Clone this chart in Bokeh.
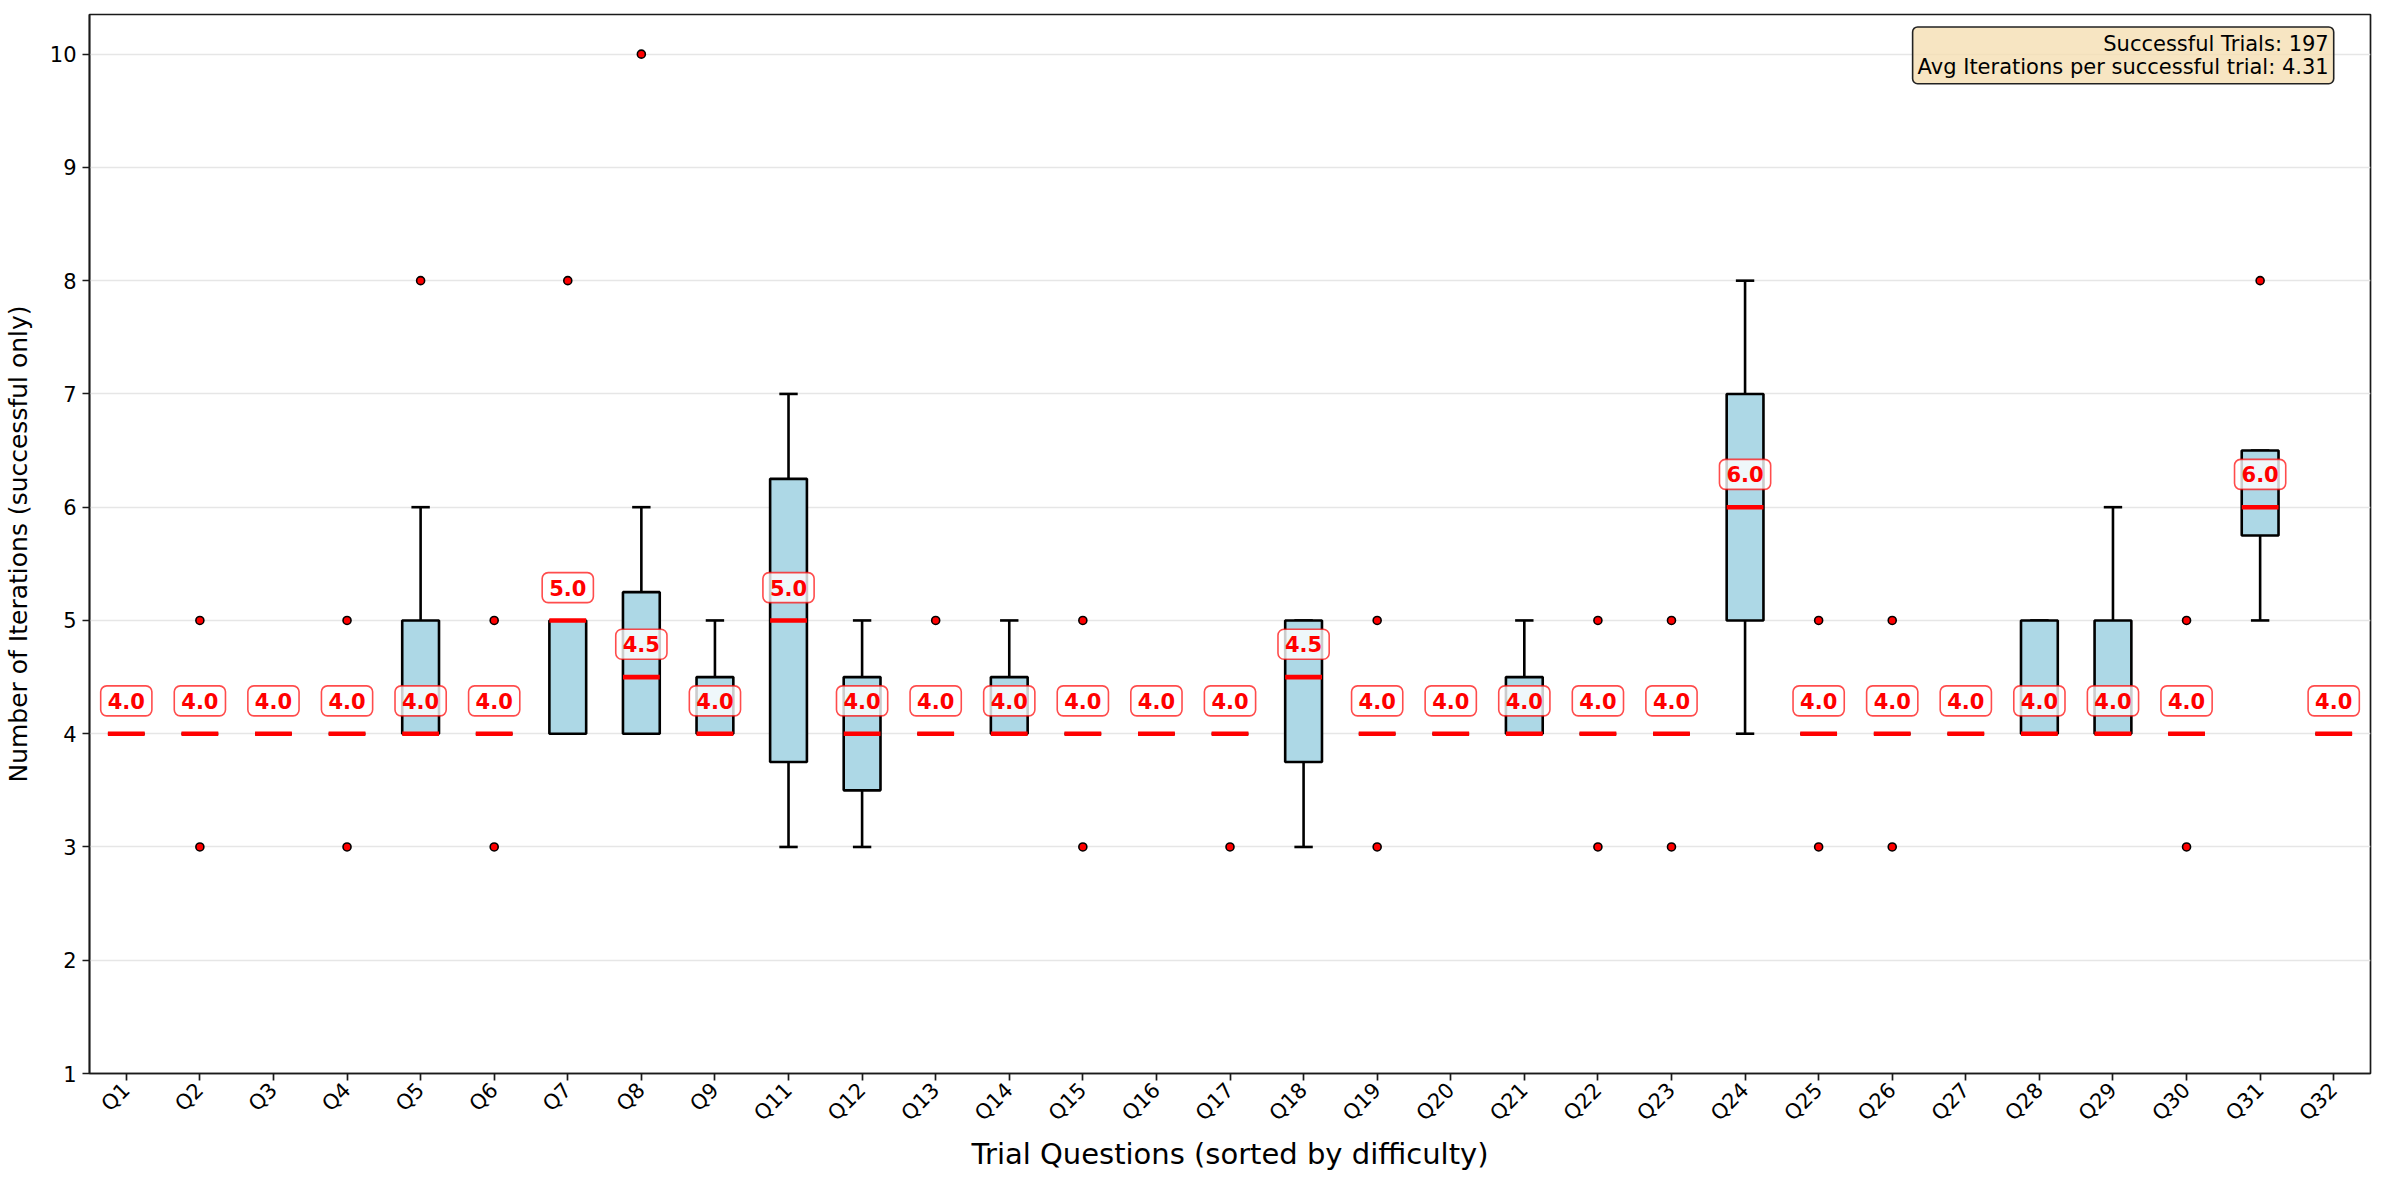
import math

from bokeh.core.properties import value
from bokeh.embed import file_html
from bokeh.models import ColumnDataSource, FixedTicker, Label, Range1d
from bokeh.plotting import figure
from bokeh.resources import INLINE

# Questions in order of difficulty (Q10 had no successful trials)
questions = ["Q1", "Q2", "Q3", "Q4", "Q5", "Q6", "Q7", "Q8", "Q9", "Q11",
             "Q12", "Q13", "Q14", "Q15", "Q16", "Q17", "Q18", "Q19", "Q20",
             "Q21", "Q22", "Q23", "Q24", "Q25", "Q26", "Q27", "Q28", "Q29",
             "Q30", "Q31", "Q32"]

# Box statistics: iterations needed per successful trial
box_low = [4, 4, 4, 4, 4, 4, 4, 4, 4, 3.75,
           3.5, 4, 4, 4, 4, 4, 3.75, 4, 4,
           4, 4, 4, 5, 4, 4, 4, 4, 4,
           4, 5.75, 4]
box_median = [4, 4, 4, 4, 4, 4, 5, 4.5, 4, 5,
              4, 4, 4, 4, 4, 4, 4.5, 4, 4,
              4, 4, 4, 6, 4, 4, 4, 4, 4,
              4, 6, 4]
box_high = [4, 4, 4, 4, 5, 4, 5, 5.25, 4.5, 6.25,
            4.5, 4, 4.5, 4, 4, 4, 5, 4, 4,
            4.5, 4, 4, 7, 4, 4, 4, 5, 5,
            4, 6.5, 4]
whisker_low = [4, 4, 4, 4, 4, 4, 4, 4, 4, 3,
               3, 4, 4, 4, 4, 4, 3, 4, 4,
               4, 4, 4, 4, 4, 4, 4, 4, 4,
               4, 5, 4]
whisker_high = [4, 4, 4, 4, 6, 4, 5, 6, 5, 7,
                5, 4, 5, 4, 4, 4, 5, 4, 4,
                5, 4, 4, 8, 4, 4, 4, 5, 6,
                4, 6.5, 4]
fliers = [[], [3, 5], [], [3, 5], [8], [3, 5], [8], [10], [], [],
          [], [5], [], [3, 5], [], [3], [], [3, 5], [],
          [], [3, 5], [3, 5], [], [3, 5], [3, 5], [], [], [],
          [3, 5], [8], []]

successful_trials = 197
avg_iterations = 4.31

FONT = "DejaVu Sans"
BOX_W = 0.5
CAP_W = 0.25

positions = list(range(1, len(questions) + 1))

stats = ColumnDataSource(dict(
    x=positions,
    lo=box_low,
    med=box_median,
    hi=box_high,
    wlo=whisker_low,
    whi=whisker_high,
    box_l=[x - BOX_W / 2 for x in positions],
    box_r=[x + BOX_W / 2 for x in positions],
    cap_l=[x - CAP_W / 2 for x in positions],
    cap_r=[x + CAP_W / 2 for x in positions],
    label_y=[m + 0.29 for m in box_median],
    label=[f"{m:.1f}" for m in box_median],
))

flier_x = [x for x, fl in zip(positions, fliers) for _ in fl]
flier_y = [v for fl in fliers for v in fl]
flier_src = ColumnDataSource(dict(x=flier_x, y=flier_y))

p = figure(
    width=2386, height=1183,
    x_range=Range1d(0.5, 31.5), y_range=Range1d(1, 10.35),
    output_backend="svg", toolbar_location=None,
    min_border_left=88, min_border_right=16,
    min_border_top=14, min_border_bottom=110,
    background_fill_color="white", border_fill_color="white",
)

# frame outline (matplotlib-like spines)
p.outline_line_color = "#1a1a1a"
p.outline_line_width = 1.7
p.outline_line_alpha = 1.0

# grid: horizontal only, faint
p.xgrid.visible = False
p.ygrid.grid_line_color = "#e6e6e6"
p.ygrid.grid_line_width = 1.6

# axes
for ax in (p.xaxis[0], p.yaxis[0]):
    ax.axis_line_color = "#1a1a1a"
    ax.axis_line_width = 1.7
    ax.major_tick_line_color = "#1a1a1a"
    ax.major_tick_line_width = 1.7
    ax.major_tick_out = 7
    ax.major_tick_in = 0
    ax.minor_tick_line_color = None
    ax.major_label_text_font = FONT
    ax.major_label_text_font_size = "21px"
    ax.major_label_text_color = "black"
    ax.axis_label_text_font = FONT
    ax.axis_label_text_font_style = "normal"
    ax.axis_label_text_color = "black"
    ax.major_label_standoff = 6

p.xaxis.ticker = FixedTicker(ticks=positions)
p.xaxis.major_label_overrides = {x: q for x, q in zip(positions, questions)}
p.xaxis.major_label_orientation = math.pi / 4
p.xaxis.axis_label = "Trial Questions (sorted by difficulty)"
p.xaxis.axis_label_text_font_size = "29px"
p.xaxis.axis_label_standoff = 0

p.yaxis.ticker = FixedTicker(ticks=list(range(1, 11)))
p.yaxis.axis_label = "Number of Iterations (successful only)"
p.yaxis.axis_label_text_font_size = "25px"
p.yaxis.axis_label_standoff = 14

# whiskers
p.segment(x0="x", y0="hi", x1="x", y1="whi", source=stats,
          line_color="black", line_width=2.6)
p.segment(x0="x", y0="lo", x1="x", y1="wlo", source=stats,
          line_color="black", line_width=2.6)
# caps
p.segment(x0="cap_l", y0="whi", x1="cap_r", y1="whi", source=stats,
          line_color="black", line_width=2.6)
p.segment(x0="cap_l", y0="wlo", x1="cap_r", y1="wlo", source=stats,
          line_color="black", line_width=2.6)
# boxes
p.quad(left="box_l", right="box_r", bottom="lo", top="hi", source=stats,
       fill_color="#add8e6", line_color="black", line_width=2.6)
# medians
p.segment(x0="box_l", y0="med", x1="box_r", y1="med", source=stats,
          line_color="red", line_width=4.6)
# outliers
p.scatter(x="x", y="y", source=flier_src, size=8, marker="circle",
          fill_color="red", line_color="black", line_width=1.6)

# median value tags
p.text(x="x", y="label_y", text="label", source=stats,
       text_color="red", text_font=value(FONT), text_font_style="bold",
       text_font_size="21px", text_align="center", text_baseline="middle",
       background_fill_color="white", background_fill_alpha=0.8,
       border_line_color="red", border_line_alpha=0.7, border_line_width=1.6,
       padding=7, border_radius=6)

# summary box in the top-right corner
summary = Label(
    x=31.0, y=10.24,
    text=f"Successful Trials: {successful_trials}\n"
         f"Avg Iterations per successful trial: {avg_iterations:.2f}",
    text_align="right", text_baseline="top",
    text_font=FONT, text_font_size="21px", text_color="black",
    text_line_height=0.95,
    background_fill_color="wheat", background_fill_alpha=0.8,
    border_line_color="#222222", border_line_width=1.6,
    padding=5, border_radius=5,
)
p.add_layout(summary)

with open("out.html", "w") as f:
    f.write(file_html(p, INLINE))
